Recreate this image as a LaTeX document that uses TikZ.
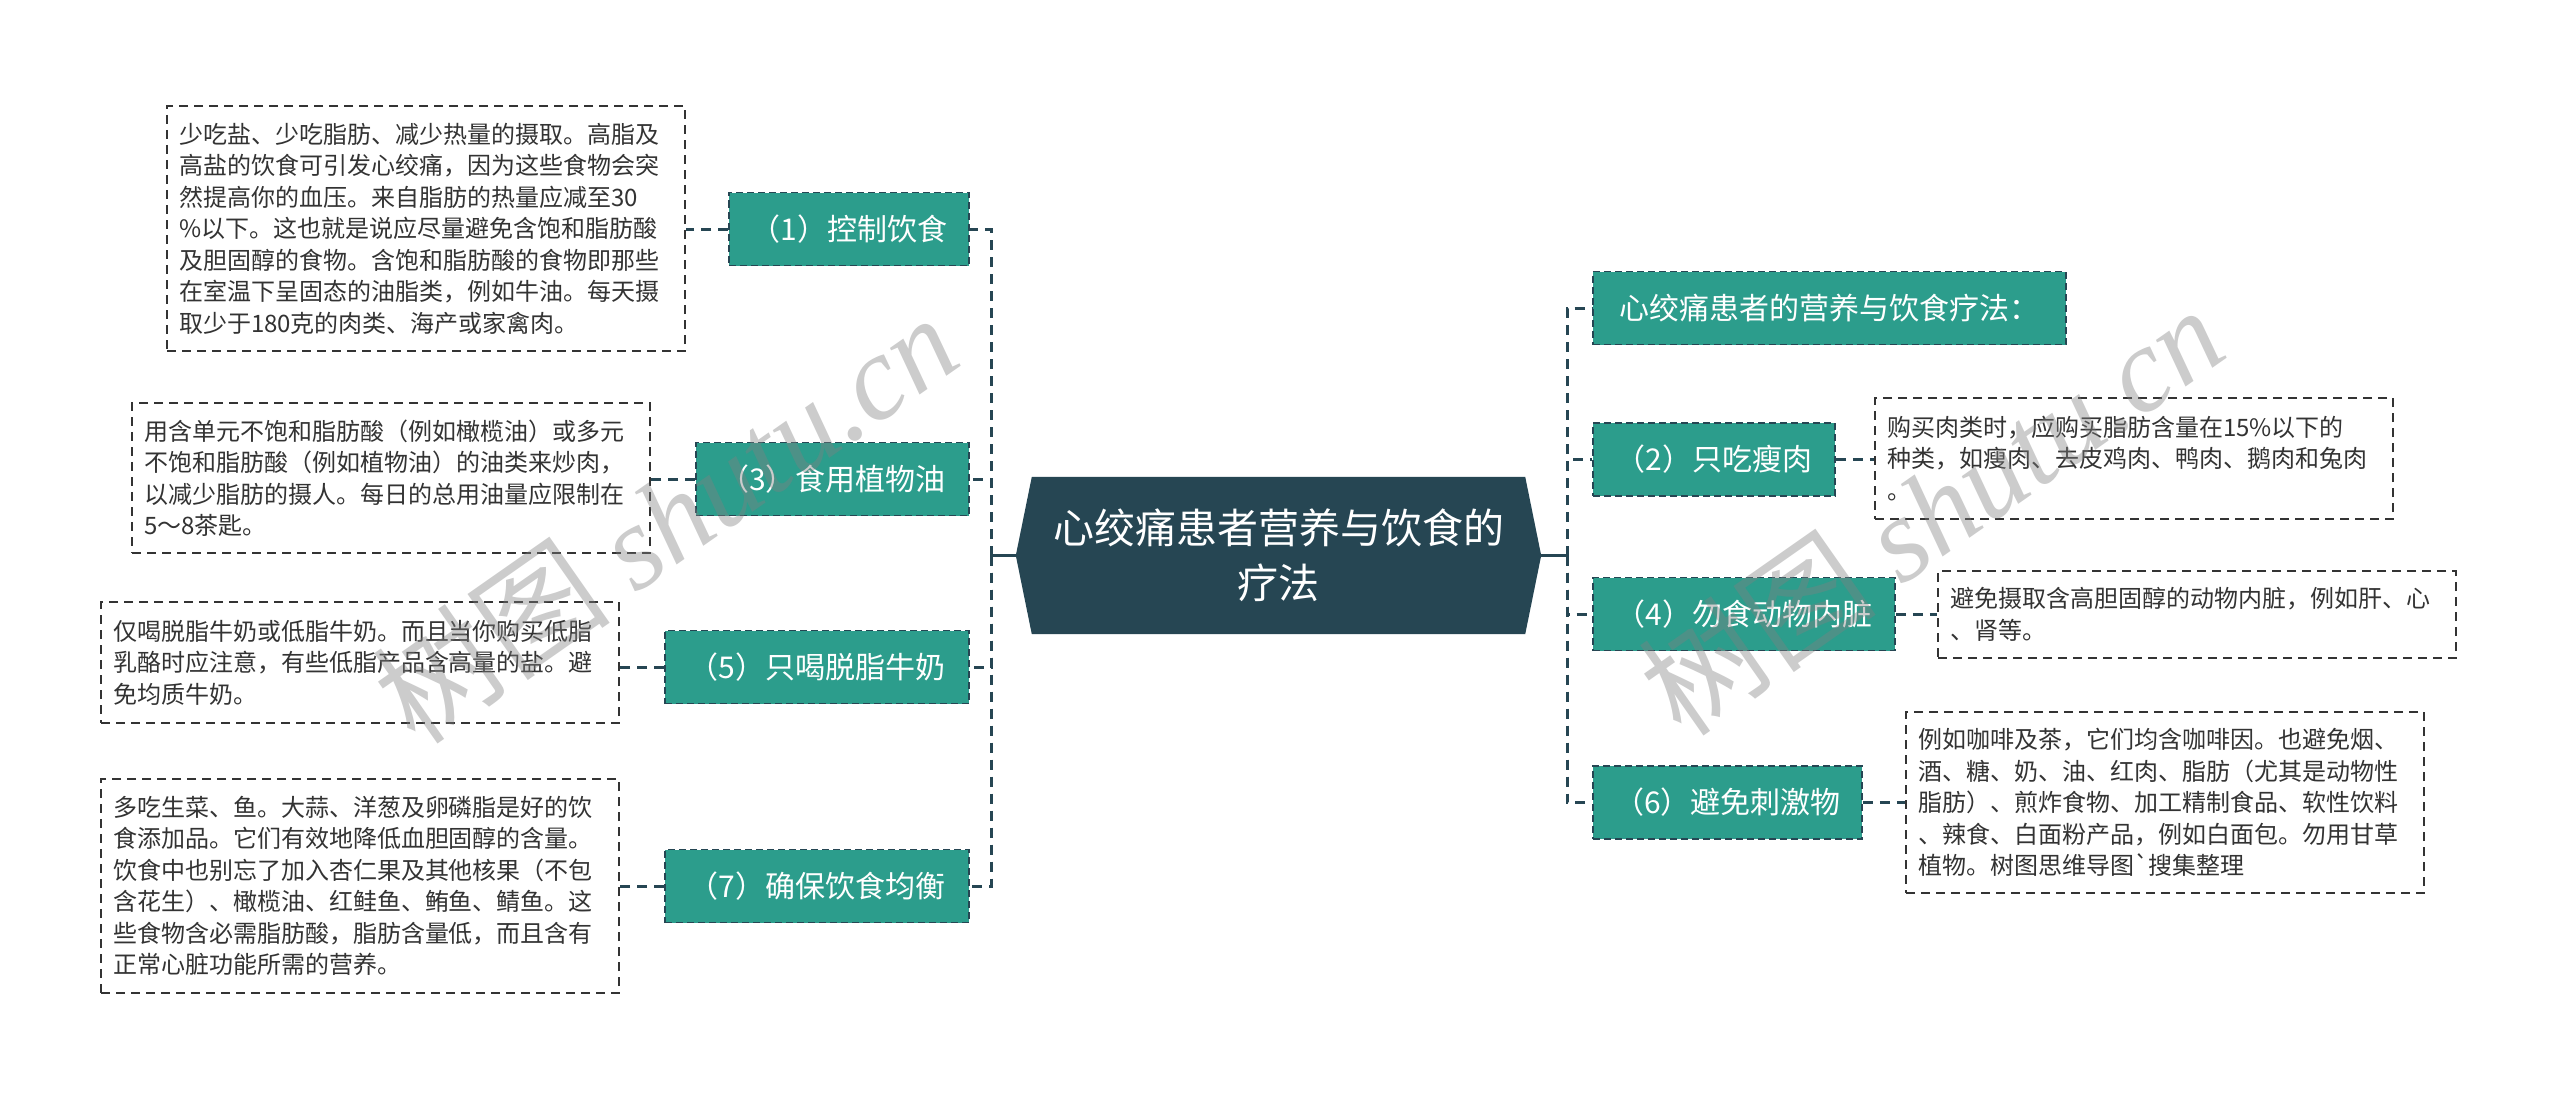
\documentclass[tikz,border=0pt]{standalone}
\usepackage{fontspec}
\setmainfont{Noto Sans CJK SC}
\newfontfamily\rawfont[Ligatures=TeXOff]{Noto Sans CJK SC}
\newfontfamily\wmserif{Liberation Serif}
\usetikzlibrary{calc,backgrounds}
\definecolor{teal0}{RGB}{44,157,140}
\definecolor{dark0}{RGB}{38,70,83}
\definecolor{txt0}{RGB}{51,51,51}
\begin{document}
\begin{tikzpicture}[x=1pt,y=-1pt,
  descbox/.style={draw=txt0, line width=1.8pt, dash pattern=on 9pt off 6pt, fill=white, text=txt0,
    font=\fontsize{24}{31.5}\selectfont, align=left, text width=494pt, inner xsep=12pt, inner ysep=0pt,
    minimum width=518pt},
  topicbox/.style={draw=dark0, line width=1.8pt, dash pattern=on 7pt off 4pt, fill=teal0, text=white,
    font=\fontsize{30}{36}\selectfont, inner xsep=0pt, minimum height=73pt},
  dconn/.style={draw=dark0, line width=3pt, dash pattern=on 10pt off 7pt},
  sconn/.style={draw=dark0, line width=3pt},
  wmark/.style={rotate=35, text=gray, text opacity=0.4, font=\fontsize{120}{120}\selectfont},
]
\useasboundingbox (0,0) rectangle (2560,1097);

% central topic
\node[text=white, font=\fontsize{41}{55}\selectfont, align=center, minimum width=493pt,
      minimum height=157pt, inner sep=0pt] (c) at (1278.5,555.5) {心绞痛患者营养与饮食的\\疗法};
\begin{scope}[on background layer]
  \fill[white] (0,0) rectangle (2560,1097);
  \fill[dark0] (c.north west) -- (c.north east) -- ($(c.east)+(16,0)$) -- (c.south east)
     -- (c.south west) -- ($(c.west)+(-16,0)$) -- cycle;
\end{scope}
\coordinate (cL) at ($(c.west)+(-16,0)$);
\coordinate (cR) at ($(c.east)+(16,0)$);
\coordinate (lj) at (991,555.5);
\coordinate (rj) at (1567,555.5);

% left topics
\node[topicbox, anchor=east, minimum width=240pt] (n1) at (970,229) {（1）控制饮食};
\node[topicbox, anchor=east, minimum width=273pt] (n3) at (970,479) {（3）食用植物油};
\node[topicbox, anchor=east, minimum width=304pt] (n5) at (970,667) {（5）只喝脱脂牛奶};
\node[topicbox, anchor=east, minimum width=304pt] (n7) at (970,886) {（7）确保饮食均衡};

% right topics
\node[topicbox, anchor=west, minimum width=473pt] (r0) at (1592,308) {心绞痛患者的营养与饮食疗法：};
\node[topicbox, anchor=west, minimum width=242pt] (n2) at (1592,459.5) {（2）只吃瘦肉};
\node[topicbox, anchor=west, minimum width=302pt] (n4) at (1592,614) {（4）勿食动物内脏};
\node[topicbox, anchor=west, minimum width=269pt] (n6) at (1592,802.5) {（6）避免刺激物};

% description boxes
\node[descbox, minimum height=245pt] (t1) at (426,228.5) {少吃盐、少吃脂肪、减少热量的摄取。高脂及\\高盐的饮食可引发心绞痛，因为这些食物会突\\然提高你的血压。来自脂肪的热量应减至30\\\%以下。这也就是说应尽量避免含饱和脂肪酸\\及胆固醇的食物。含饱和脂肪酸的食物即那些\\在室温下呈固态的油脂类，例如牛油。每天摄\\取少于180克的肉类、海产或家禽肉。};
\node[descbox, minimum height=150pt] (t3) at (391,478) {用含单元不饱和脂肪酸（例如橄榄油）或多元\\不饱和脂肪酸（例如植物油）的油类来炒肉，\\以减少脂肪的摄人。每日的总用油量应限制在\\5～8茶匙。};
\node[descbox, minimum height=121pt] (t5) at (360,662.5) {仅喝脱脂牛奶或低脂牛奶。而且当你购买低脂\\乳酪时应注意，有些低脂产品含高量的盐。避\\免均质牛奶。};
\node[descbox, minimum height=214pt] (t7) at (360,886) {多吃生菜、鱼。大蒜、洋葱及卵磷脂是好的饮\\食添加品。它们有效地降低血胆固醇的含量。\\饮食中也别忘了加入杏仁果及其他核果（不包\\含花生）、橄榄油、红鲑鱼、鲔鱼、鲭鱼。这\\些食物含必需脂肪酸，脂肪含量低，而且含有\\正常心脏功能所需的营养。};
\node[descbox, minimum height=121pt] (t2) at (2134,458.5) {购买肉类时，应购买脂肪含量在15\%以下的\\种类，如瘦肉、去皮鸡肉、鸭肉、鹅肉和兔肉\\。};
\node[descbox, minimum height=87pt] (t4) at (2197,614.5) {避免摄取含高胆固醇的动物内脏，例如肝、心\\、肾等。};
\node[descbox, minimum height=181pt] (t6) at (2165,802.5) {例如咖啡及茶，它们均含咖啡因。也避免烟、\\酒、糖、奶、油、红肉、脂肪（尤其是动物性\\脂肪）、煎炸食物、加工精制食品、软性饮料\\、辣食、白面粉产品，例如白面包。勿用甘草\\植物。树图思维导图{\rawfont`}搜集整理};

% connectors
\draw[sconn] (cL) -- (lj);
\draw[sconn] (cR) -- (rj);
\foreach \n in {n1,n3,n5,n7} { \draw[dconn] (lj) |- (\n.east); }
\foreach \n in {r0,n2,n4,n6} { \draw[dconn] (rj) |- (\n.west); }
\draw[dconn] (n1.west) -- (n1.west -| t1.east);
\draw[dconn] (n3.west) -- (n3.west -| t3.east);
\draw[dconn] (n5.west) -- (n5.west -| t5.east);
\draw[dconn] (n7.west) -- (n7.west -| t7.east);
\draw[dconn] (n2.east) -- (n2.east -| t2.west);
\draw[dconn] (n4.east) -- (n4.east -| t4.west);
\draw[dconn] (n6.east) -- (n6.east -| t6.west);

% watermarks
\node[wmark] (wm1) at (665,518) {树图 {\wmserif\itshape shutu.cn}};
\node[wmark] (wm2) at (1931,510) {树图 {\wmserif\itshape shutu.cn}};
\end{tikzpicture}
\end{document}
